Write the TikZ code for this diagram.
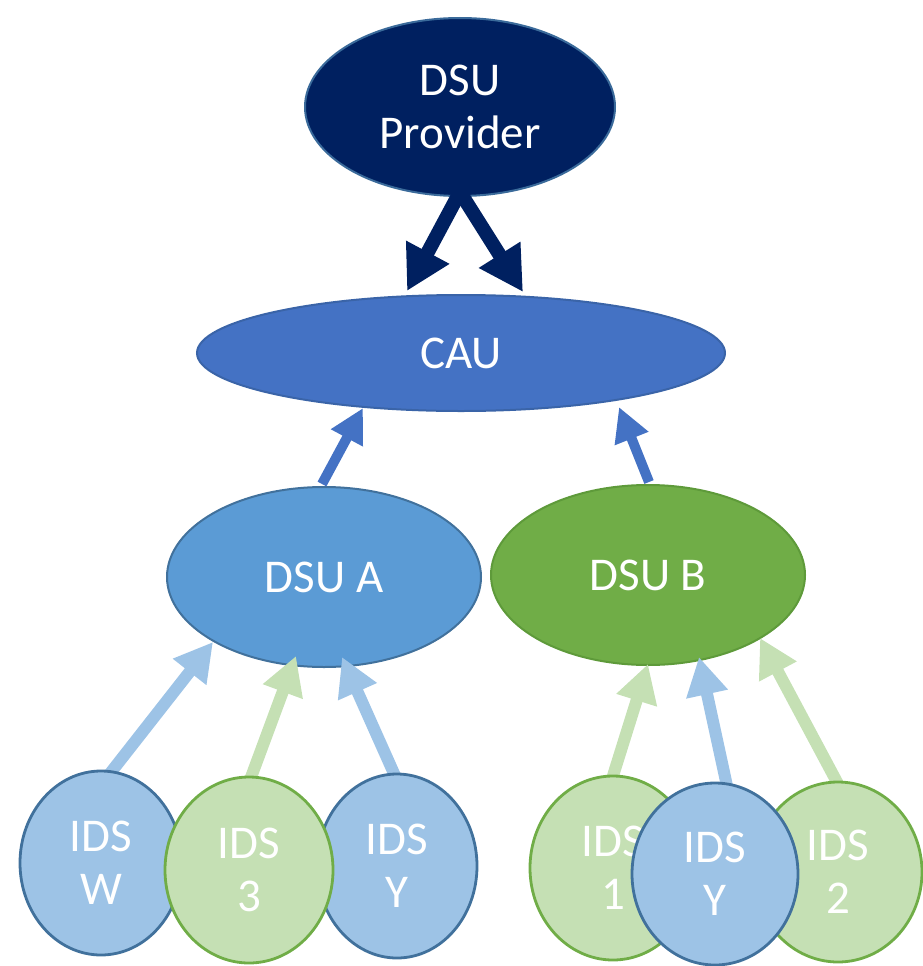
\documentclass[tikz,border=0pt]{standalone}
\usepackage{fontspec}
\setmainfont{Carlito}
\usetikzlibrary{shapes.geometric,arrows.meta}
\definecolor{navy}{HTML}{002060}
\definecolor{navyedge}{HTML}{3A6A9A}
\definecolor{caufill}{HTML}{4472C4}
\definecolor{cauedge}{HTML}{3A64A8}
\definecolor{afill}{HTML}{5B9BD5}
\definecolor{aedge}{HTML}{41719C}
\definecolor{bfill}{HTML}{70AD47}
\definecolor{bedge}{HTML}{5E9A3A}
\definecolor{lblue}{HTML}{9DC3E6}
\definecolor{lgreen}{HTML}{C5E0B4}
\definecolor{gedge}{HTML}{70AD47}
\definecolor{bluedge}{HTML}{41719C}
\tikzset{
  oval/.style={ellipse, inner sep=0pt, line width=2pt, text=white,
    font=\fontsize{47}{53}\selectfont, align=center},
  small/.style={line width=2.8pt},
  bigarrow/.style={line width=14pt, -{Triangle[width=46pt,length=44pt]}},
  midarrow/.style={line width=10pt, draw=caufill, -{Triangle[width=34pt,length=34pt]}},
  smallarrow/.style={line width=12pt, -{Triangle[width=40pt,length=38pt]}},
}
\begin{document}
\begin{tikzpicture}[x=1pt,y=-1pt]
\useasboundingbox (0,0) rectangle (923,966);
% upper ellipses
\node[oval, fill=navy, draw=navyedge, minimum width=310pt, minimum height=178pt] (prov) at (460,107) {DSU\\Provider};
\node[oval, fill=caufill, draw=cauedge, minimum width=528pt, minimum height=116pt] (cau) at (461,353) {CAU};
\node[oval, fill=afill, draw=aedge, minimum width=314pt, minimum height=180pt] (dsua) at (324,577) {DSU A};
\node[oval, fill=bfill, draw=bedge, minimum width=314pt, minimum height=180pt] (dsub) at (648,575) {DSU B};
% arrow coordinates
\coordinate (p0) at (460,192);
\coordinate (c1) at (407,291);
\coordinate (c2) at (523,292);
\coordinate (a0) at (322,484);
\coordinate (ca) at (363,408);
\coordinate (b0) at (649,482);
\coordinate (cb) at (619,407);
\coordinate (w0) at (108,776);
\coordinate (aw) at (213,642);
\coordinate (t0) at (250,780);
\coordinate (a3) at (296,656);
\coordinate (y0) at (396,778);
\coordinate (ay) at (342,657);
\coordinate (o0) at (612,779);
\coordinate (b1) at (648,664);
\coordinate (z0) at (727,786);
\coordinate (by) at (699,657);
\coordinate (s0) at (838,784);
\coordinate (b2) at (760,638);
% arrows
\draw[bigarrow, draw=navy, fill=navy] (p0) -- (c1);
\draw[bigarrow, draw=navy, fill=navy] (p0) -- (c2);
\draw[midarrow, fill=caufill] (a0) -- (ca);
\draw[midarrow, fill=caufill] (b0) -- (cb);
\draw[smallarrow, draw=lblue, fill=lblue] (w0) -- (aw);
\draw[smallarrow, draw=lgreen, fill=lgreen] (t0) -- (a3);
\draw[smallarrow, draw=lblue, fill=lblue] (y0) -- (ay);
\draw[smallarrow, draw=lgreen, fill=lgreen] (o0) -- (b1);
\draw[smallarrow, draw=lblue, fill=lblue] (z0) -- (by);
\draw[smallarrow, draw=lgreen, fill=lgreen] (s0) -- (b2);
% bottom circles
\node[oval, small, fill=lblue, draw=bluedge, minimum width=162pt, minimum height=184pt] (idsw) at (101,863) {IDS\\W};
\node[oval, small, fill=lblue, draw=bluedge, minimum width=160pt, minimum height=184pt] (idsy) at (397,866) {IDS\\Y};
\node[oval, small, fill=lgreen, draw=gedge, minimum width=168pt, minimum height=186pt] (ids3) at (249,870) {IDS\\3};
\node[oval, small, fill=lgreen, draw=gedge, minimum width=166pt, minimum height=184pt] (ids1) at (613,868) {IDS\\1};
\node[oval, small, fill=lgreen, draw=gedge, minimum width=168pt, minimum height=180pt] (ids2) at (838,872) {IDS\\2};
\node[oval, small, fill=lblue, draw=bluedge, minimum width=166pt, minimum height=182pt] (idsy2) at (715,874) {IDS\\Y};
\end{tikzpicture}
\end{document}
